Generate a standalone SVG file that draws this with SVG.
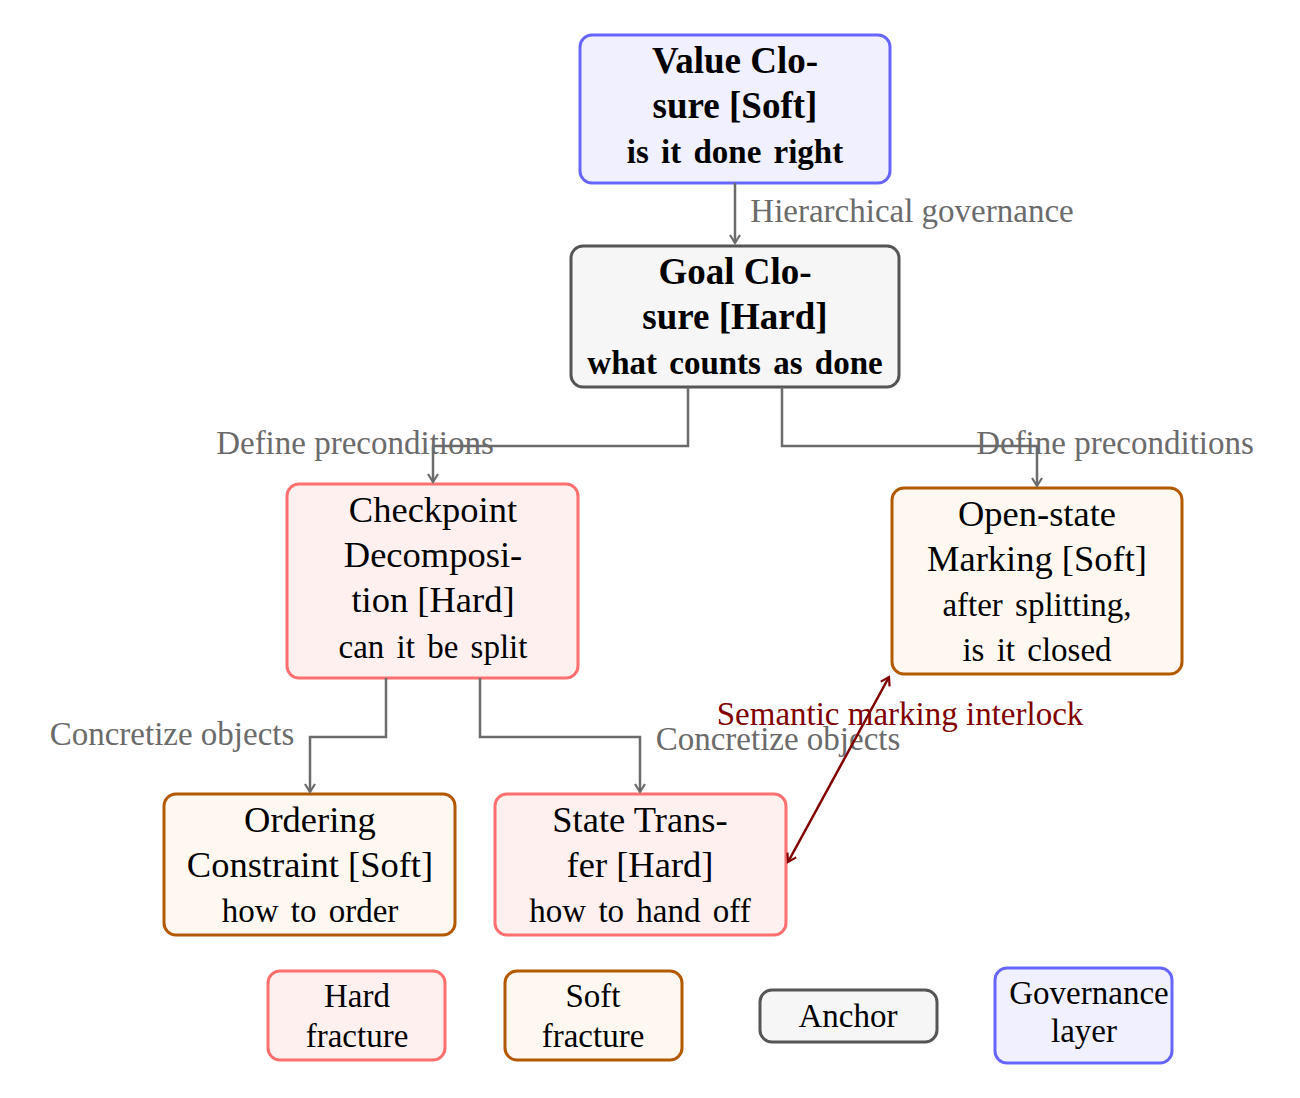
<svg xmlns="http://www.w3.org/2000/svg" width="1300" height="1098" viewBox="0 0 1300 1098">
<style>
text{font-family:"Liberation Serif","Times New Roman",serif;text-anchor:middle;fill:#000}
.box{stroke-width:3}
.gov{fill:#f0f0ff;stroke:#6666ff}
.anc{fill:#f6f6f6;stroke:#555555}
.hard{fill:#fff0f0;stroke:#ff6f6f}
.soft{fill:#fff8f0;stroke:#b35900}
.t{font-size:36.5px}
.tb{font-size:37px;font-weight:bold}
.sb{font-size:33px;font-weight:bold;word-spacing:4px}
.s{font-size:33px;word-spacing:4px}
.lg{font-size:33px}
.lbl{font-size:33px;fill:#6b6b6b}
.red{font-size:33px;fill:#800000}
.c{fill:none;stroke:#6b6b6b;stroke-width:2.5}
.cr{fill:none;stroke:#800000;stroke-width:2.5}
</style>
<defs>
<marker id="ag" markerWidth="14" markerHeight="14" refX="11" refY="7" orient="auto" markerUnits="userSpaceOnUse"><path d="M3,2 L11,7 L3,12" fill="none" stroke="#6b6b6b" stroke-width="2.2"/></marker>
<marker id="ar" markerWidth="14" markerHeight="14" refX="11" refY="7" orient="auto-start-reverse" markerUnits="userSpaceOnUse"><path d="M3,2 L11,7 L3,12" fill="none" stroke="#800000" stroke-width="2.2"/></marker>
</defs>
<g id="value">
<rect class="box gov" x="580" y="35" width="310" height="148" rx="12"/>
<text class="tb" x="735" y="73">Value Clo-</text>
<text class="tb" x="735" y="118">sure [Soft]</text>
<text class="sb" x="735" y="163">is it done right</text>
</g>
<g id="goal">
<rect class="box anc" x="571" y="246" width="328" height="141" rx="12"/>
<text class="tb" x="735" y="284">Goal Clo-</text>
<text class="tb" x="735" y="329">sure [Hard]</text>
<text class="sb" x="735" y="374">what counts as done</text>
</g>
<g id="checkpoint">
<rect class="box hard" x="287" y="484" width="291" height="194" rx="12"/>
<text class="t" x="433" y="522">Checkpoint</text>
<text class="t" x="433" y="567">Decomposi-</text>
<text class="t" x="433" y="612">tion [Hard]</text>
<text class="s" x="433" y="658">can it be split</text>
</g>
<g id="openstate">
<rect class="box soft" x="892" y="488" width="290" height="186" rx="12"/>
<text class="t" x="1037" y="526">Open-state</text>
<text class="t" x="1037" y="571">Marking [Soft]</text>
<text class="s" x="1037" y="616">after splitting,</text>
<text class="s" x="1037" y="661">is it closed</text>
</g>
<g id="ordering">
<rect class="box soft" x="164" y="794" width="291" height="141" rx="12"/>
<text class="t" x="310" y="832">Ordering</text>
<text class="t" x="310" y="877">Constraint [Soft]</text>
<text class="s" x="310" y="922">how to order</text>
</g>
<g id="statetransfer">
<rect class="box hard" x="495" y="794" width="291" height="141" rx="12"/>
<text class="t" x="640" y="832">State Trans-</text>
<text class="t" x="640" y="877">fer [Hard]</text>
<text class="s" x="640" y="922">how to hand off</text>
</g>
<g id="legend-hard">
<rect class="box hard" x="268" y="971" width="177" height="89" rx="12"/>
<text class="lg" x="357" y="1007">Hard</text>
<text class="lg" x="357" y="1047">fracture</text>
</g>
<g id="legend-soft">
<rect class="box soft" x="505" y="971" width="177" height="89" rx="12"/>
<text class="lg" x="593" y="1007">Soft</text>
<text class="lg" x="593" y="1047">fracture</text>
</g>
<g id="legend-anchor">
<rect class="box anc" x="760" y="990" width="177" height="52" rx="12"/>
<text class="lg" x="848" y="1027">Anchor</text>
</g>
<g id="legend-gov">
<rect class="box gov" x="995" y="968" width="177" height="95" rx="12"/>
<text class="lg" x="1089" y="1004">Governance</text>
<text class="lg" x="1084" y="1042">layer</text>
</g>
<g id="labels">
<text class="lbl" x="912" y="222">Hierarchical governance</text>
<text class="lbl" x="355" y="454">Define preconditions</text>
<text class="lbl" x="1115" y="454">Define preconditions</text>
<text class="lbl" x="172" y="745">Concretize objects</text>
<text class="lbl" x="778" y="750">Concretize objects</text>
<text class="red" x="900" y="725">Semantic marking interlock</text>
</g>
<g id="connectors">
<path class="c" d="M735,183 V243" marker-end="url(#ag)"/>
<path class="c" d="M688,387 V446 H433 V482" marker-end="url(#ag)"/>
<path class="c" d="M782,387 V446 H1037 V486" marker-end="url(#ag)"/>
<path class="c" d="M386,678 V737 H310 V792" marker-end="url(#ag)"/>
<path class="c" d="M480,678 V737 H640 V792" marker-end="url(#ag)"/>
<path class="cr" d="M788,862 L889,677" marker-start="url(#ar)" marker-end="url(#ar)"/>
</g>
</svg>
